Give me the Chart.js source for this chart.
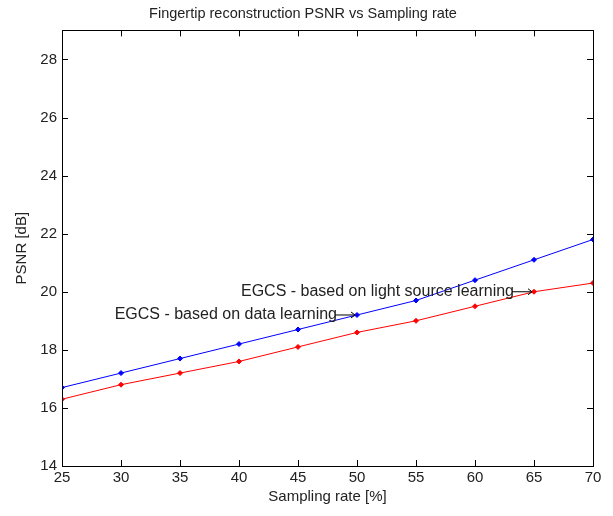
<!DOCTYPE html>
<html>
<head>
  <title>Fingertip PSNR</title>
  <script src="https://cdn.jsdelivr.net/npm/chart.js"></script>
  <style>
    body { margin: 0; background: #fff; }
    #wrap { width: 613px; height: 516px; }
  </style>
</head>
<body>
  <div id="wrap"><canvas id="psnrChart" width="613" height="516"></canvas></div>

  <script>
    const samplingRates = [25, 30, 35, 40, 45, 50, 55, 60, 65, 70];
    const psnrBlue = [16.7, 17.2, 17.7, 18.2, 18.7, 19.2, 19.7, 20.4, 21.1, 21.8];
    const psnrRed = [16.3, 16.8, 17.2, 17.6, 18.1, 18.6, 19.0, 19.5, 20.0, 20.3];
    const yTicks = [14, 16, 18, 20, 22, 24, 26, 28];
    const xTicks = [25, 30, 35, 40, 45, 50, 55, 60, 65, 70];
    // text annotations: label, series, index of the point the arrow hits
    const notes = [
      { text: 'EGCS - based on light source learning', series: 'red', idx: 8 },
      { text: 'EGCS - based on data learning', series: 'blue', idx: 5 }
    ];

    const FONT = '"Liberation Sans", Arial, sans-serif';

    // MATLAB-like box with inward ticks, plus the text arrows
    const boxPlugin = {
      id: 'box',
      afterDraw(chart) {
        const { ctx, chartArea: a, scales: { x, y } } = chart;
        ctx.save();
        ctx.strokeStyle = '#000';
        ctx.lineWidth = 1;
        ctx.strokeRect(Math.round(a.left) + 0.5, Math.round(a.top) + 0.5,
          Math.round(a.right - a.left), Math.round(a.bottom - a.top));
        ctx.beginPath();
        xTicks.forEach(v => {
          const px = Math.round(x.getPixelForValue(v)) + 0.5;
          ctx.moveTo(px, a.bottom); ctx.lineTo(px, a.bottom - 6);
          ctx.moveTo(px, a.top); ctx.lineTo(px, a.top + 6);
        });
        yTicks.forEach(v => {
          const py = Math.round(y.getPixelForValue(v)) + 0.5;
          ctx.moveTo(a.left, py); ctx.lineTo(a.left + 6, py);
          ctx.moveTo(a.right, py); ctx.lineTo(a.right - 6, py);
        });
        ctx.stroke();

        ctx.font = '16px ' + FONT;
        ctx.fillStyle = '#222';
        ctx.textBaseline = 'middle';
        ctx.textAlign = 'right';
        notes.forEach(n => {
          const data = n.series === 'red' ? psnrRed : psnrBlue;
          const px = x.getPixelForValue(samplingRates[n.idx]);
          const py = y.getPixelForValue(data[n.idx]);
          const ax0 = px - 20;
          ctx.fillText(n.text, ax0, py);
          ctx.beginPath();
          ctx.moveTo(ax0 - 2, py); ctx.lineTo(px - 2, py);
          ctx.moveTo(px - 6, py - 3); ctx.lineTo(px - 2, py); ctx.lineTo(px - 6, py + 3);
          ctx.strokeStyle = '#000';
          ctx.stroke();
        });
        ctx.restore();
      }
    };

    new Chart(document.getElementById('psnrChart').getContext('2d'), {
      type: 'line',
      data: {
        labels: samplingRates,
        datasets: [{
          label: 'blue',
          data: samplingRates.map((s, i) => ({ x: s, y: psnrBlue[i] })),
          borderColor: '#0000ff',
          backgroundColor: '#0000ff',
          borderWidth: 1,
          pointStyle: 'rectRot',
          pointRadius: 2.5,
          fill: false
        }, {
          label: 'red',
          data: samplingRates.map((s, i) => ({ x: s, y: psnrRed[i] })),
          borderColor: '#ff0000',
          backgroundColor: '#ff0000',
          borderWidth: 1,
          pointStyle: 'rectRot',
          pointRadius: 2.5,
          fill: false
        }]
      },
      options: {
        responsive: false,
        animation: false,
        layout: { padding: { left: 13, right: 20, top: 0, bottom: 10 } },
        plugins: {
          legend: { display: false },
          tooltip: { enabled: false },
          title: {
            display: true,
            text: 'Fingertip reconstruction PSNR vs Sampling rate',
            color: '#222',
            font: { family: FONT, size: 14.5, weight: 'normal' },
            padding: { top: 5, bottom: 8 }
          }
        },
        scales: {
          x: {
            type: 'linear',
            min: 25, max: 70,
            afterBuildTicks: s => { s.ticks = xTicks.map(v => ({ value: v })); },
            afterFit: s => { s.height = 40; },
            grid: { display: false, drawTicks: false },
            border: { display: false },
            ticks: { color: '#222', font: { family: FONT, size: 15 }, padding: 3, maxRotation: 0 },
            title: {
              display: true, text: 'Sampling rate [%]', color: '#222',
              font: { family: FONT, size: 15 }, padding: { top: 2, bottom: 0 }
            }
          },
          y: {
            min: 14, max: 29,
            afterBuildTicks: s => { s.ticks = yTicks.map(v => ({ value: v })); },
            afterFit: s => { s.width = 49; },
            grid: { display: false, drawTicks: false },
            border: { display: false },
            ticks: { color: '#222', font: { family: FONT, size: 15 }, padding: 5 },
            title: {
              display: true, text: 'PSNR [dB]', color: '#222',
              font: { family: FONT, size: 15 }, padding: { top: 0, bottom: 6 }
            }
          }
        }
      },
      plugins: [boxPlugin]
    });
  </script>
</body>
</html>
